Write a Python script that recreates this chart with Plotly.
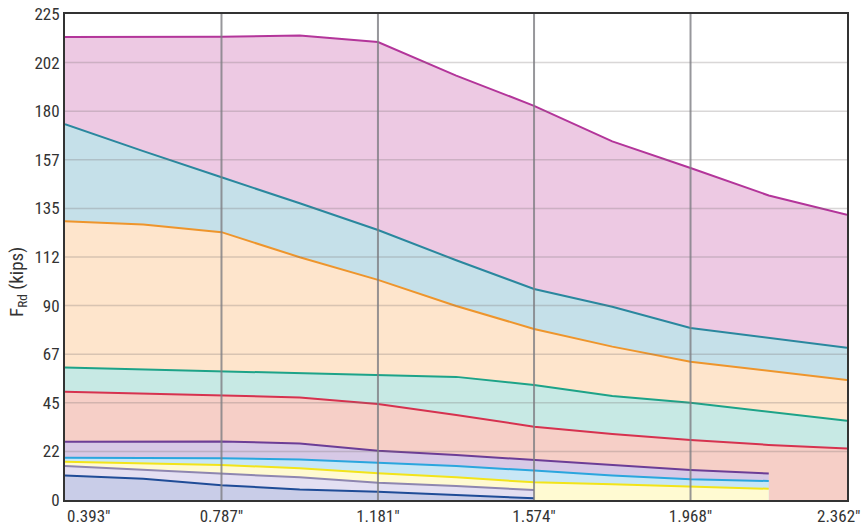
import plotly.graph_objects as go

# x positions (inches) of the data points
x_all = [0.393, 0.590, 0.787, 0.984, 1.181, 1.378, 1.574, 1.771, 1.968, 2.165, 2.362]

# series values (kips), top to bottom
s_magenta = [214.4, 214.4, 214.5, 215.0, 212.0, 196.5, 182.5, 166.0, 153.7, 141.0, 132.0]
s_teal = [174.0, 161.5, 149.4, 137.4, 125.0, 111.0, 97.7, 89.5, 79.6, 75.0, 70.5]
s_orange = [129.0, 127.6, 124.0, 112.4, 101.9, 89.8, 79.2, 71.0, 64.0, 59.9, 55.6]
s_green = [61.3, 60.5, 59.7, 58.6, 57.9, 57.0, 53.2, 48.1, 45.0, 40.9, 36.7]
s_red = [50.1, 49.3, 48.5, 47.5, 44.4, 39.4, 33.9, 30.6, 27.8, 25.5, 23.9]
s_purple = [27.0, 27.0, 27.1, 26.2, 22.8, 20.8, 18.5, 16.2, 13.9, 12.3]
s_lightblue = [19.6, 19.5, 19.3, 18.8, 17.3, 15.7, 13.6, 11.4, 9.6, 8.8]
s_yellow = [17.7, 17.0, 16.2, 14.7, 12.4, 10.5, 8.2, 7.3, 6.2, 5.2]
s_gray = [15.7, 13.9, 12.0, 10.5, 8.0, 6.5, 4.6]
s_darkblue = [11.4, 9.8, 6.8, 4.9, 3.8, 2.3, 0.8]

series = [s_magenta, s_teal, s_orange, s_green, s_red,
          s_purple, s_lightblue, s_yellow, s_gray, s_darkblue]
line_colors = ["#b3359a", "#2a879e", "#ee952c", "#1da388", "#d6324f",
               "#6c3d96", "#2aa6de", "#f2e41a", "#8e86b0", "#1f4c97"]
fill_colors = ["#edc9e3", "#c5e0e9", "#fee5cc", "#c7e9e4", "#f6cfc7",
               "#d7c9e6", "#c8e7f6", "#fffad2", "#e3dff2", "#c9cde8"]

# tick labels
x_ticks = [0.393, 0.787, 1.181, 1.574, 1.968, 2.362]
x_tick_text = ['0.393"', '0.787"', '1.181"', '1.574"', '1.968"', '2.362"']
y_ticks = [0, 22.5, 45, 67.5, 90, 112.5, 135, 157.5, 180, 202.5, 225]
y_tick_text = ["0", "22", "45", "67", "90", "112", "135", "157", "180", "202", "225"]

FONT = "Liberation Sans Narrow, Roboto Condensed, Arial Narrow, Roboto, sans-serif"
TICK_FONT = dict(family=FONT, size=17, color="#333")

fig = go.Figure()
for vals, lc, fc in zip(series, line_colors, fill_colors):
    fig.add_trace(go.Scatter(
        x=x_all[:len(vals)], y=vals, mode="lines",
        line=dict(color=lc, width=2),
        fill="tozeroy", fillcolor=fc, showlegend=False, hoverinfo="skip"))

shapes = []
for yv in y_ticks[1:-1]:
    shapes.append(dict(type="line", xref="x domain", yref="y", x0=0, x1=1, y0=yv, y1=yv,
                       line=dict(color="rgba(120,110,110,0.28)", width=1.5), layer="above"))
for xv in x_ticks[1:-1]:
    shapes.append(dict(type="line", xref="x", yref="y domain", x0=xv, x1=xv, y0=0, y1=1,
                       line=dict(color="rgba(125,125,130,0.8)", width=2), layer="above"))

annotations = [
    dict(text=x_tick_text[0], xref="x", yref="paper", x=x_ticks[0], y=0, yshift=-4,
         xanchor="left", yanchor="top", showarrow=False, font=TICK_FONT),
    dict(text=x_tick_text[-1], xref="x", yref="paper", x=x_ticks[-1], y=0, yshift=-4,
         xshift=-8, xanchor="center", yanchor="top", showarrow=False, font=TICK_FONT),
    dict(text="F<sub>Rd</sub> (kips)", xref="paper", yref="y", x=-0.06, y=101,
         textangle=-90, xanchor="center", yanchor="middle", showarrow=False,
         font=dict(family=FONT, size=19, color="#333")),
]

fig.update_layout(
    width=861, height=525,
    margin=dict(l=65, r=14, t=14, b=25, autoexpand=False),
    paper_bgcolor="white", plot_bgcolor="white",
    font=TICK_FONT,
    shapes=shapes, annotations=annotations,
    xaxis=dict(range=[x_ticks[0], x_ticks[-1]], tickvals=x_ticks[1:-1], ticktext=x_tick_text[1:-1],
               showgrid=False, zeroline=False, showline=True, linecolor="#333", linewidth=2,
               mirror=True, ticks="", layer="above traces", automargin=False,
               tickfont=TICK_FONT),
    yaxis=dict(range=[0, 225], tickvals=y_ticks, ticktext=y_tick_text,
               showgrid=False, zeroline=False, showline=True, linecolor="#333", linewidth=2,
               mirror=True, ticks="", layer="above traces", automargin=False,
               tickfont=TICK_FONT),
)

# remove the default page margin so the figure fills the window exactly
fig.write_html("out.html",
               config={"displayModeBar": False},
               post_script="document.body.style.margin='0';document.body.style.overflow='hidden';")
